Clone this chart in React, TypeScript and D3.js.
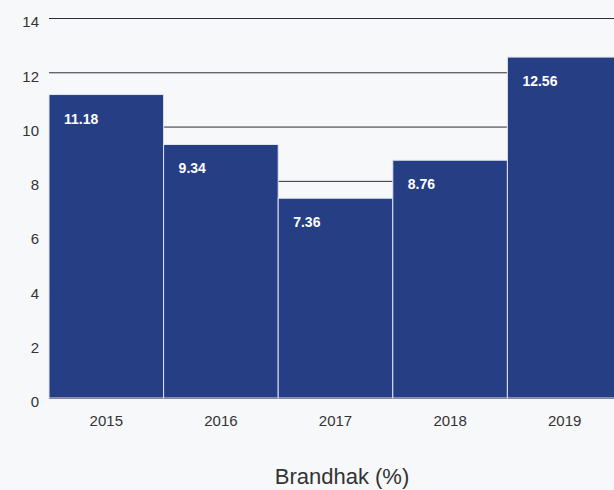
import { useEffect, useRef } from "react";
import * as d3 from "d3";

const years = ["2015", "2016", "2017", "2018", "2019"];
const brandhak = [11.18, 9.34, 7.36, 8.76, 12.56];
const yTicks = [0, 2, 4, 6, 8, 10, 12, 14];
const axisTitle = "Brandhak (%)";

export default function App() {
  const chartRef = useRef<SVGSVGElement>(null);

  useEffect(() => {
    const svg = d3.select(chartRef.current);
    svg.selectAll("*").remove();

    const width = 614;
    const height = 490;
    const margin = { top: 18, right: -8, bottom: 92, left: 49 };
    const font = "'Liberation Sans', Arial, sans-serif";

    svg.append("rect").attr("width", width).attr("height", height).attr("fill", "#f7f8fa");

    const x = d3
      .scaleBand()
      .domain(years)
      .range([margin.left, width - margin.right])
      .padding(0);

    const y = d3
      .scaleLinear()
      .domain([0, 14])
      .range([height - margin.bottom, margin.top]);

    // gridlines behind the bars
    svg
      .append("g")
      .selectAll("line")
      .data(yTicks)
      .join("line")
      .attr("x1", margin.left)
      .attr("x2", width)
      .attr("y1", (d) => y(d) + 0.5)
      .attr("y2", (d) => y(d) + 0.5)
      .attr("stroke", "#2b2f3a")
      .attr("stroke-width", 1);

    svg
      .append("g")
      .selectAll("rect")
      .data(brandhak)
      .join("rect")
      .attr("x", (_, i) => x(years[i])!)
      .attr("y", (d) => y(d))
      .attr("width", x.bandwidth())
      .attr("height", (d) => y(0) - y(d))
      .attr("fill", "#263e84")
      .attr("stroke", "#dfe4f0")
      .attr("stroke-width", 1);

    svg
      .append("g")
      .selectAll("text")
      .data(brandhak)
      .join("text")
      .attr("x", (_, i) => x(years[i])! + 15)
      .attr("y", (d) => y(d) + 29)
      .attr("fill", "#ffffff")
      .attr("font-family", font)
      .attr("font-size", 14)
      .attr("font-weight", 600)
      .text((d) => d.toFixed(2));

    const yAxis = svg
      .append("g")
      .attr("transform", `translate(${margin.left},0)`)
      .call(d3.axisLeft(y).tickValues(yTicks).tickSize(0).tickPadding(10));
    yAxis.select(".domain").remove();
    yAxis
      .selectAll("text")
      .attr("y", 4)
      .attr("font-family", font)
      .attr("font-size", 15)
      .attr("fill", "#333");

    const xAxis = svg
      .append("g")
      .attr("transform", `translate(0,${height - margin.bottom})`)
      .call(d3.axisBottom(x).tickSize(0).tickPadding(17));
    xAxis.select(".domain").remove();
    xAxis
      .selectAll("text")
      .attr("font-family", font)
      .attr("font-size", 15)
      .attr("fill", "#333");

    svg
      .append("text")
      .attr("x", 342)
      .attr("y", 484)
      .attr("text-anchor", "middle")
      .attr("font-family", font)
      .attr("font-size", 22)
      .attr("fill", "#333")
      .text(axisTitle);
  }, []);

  return (
    <div style={{ position: "fixed", left: 0, top: 0 }}>
      <svg ref={chartRef} width="614" height="490" style={{ display: "block" }}></svg>
    </div>
  );
}
